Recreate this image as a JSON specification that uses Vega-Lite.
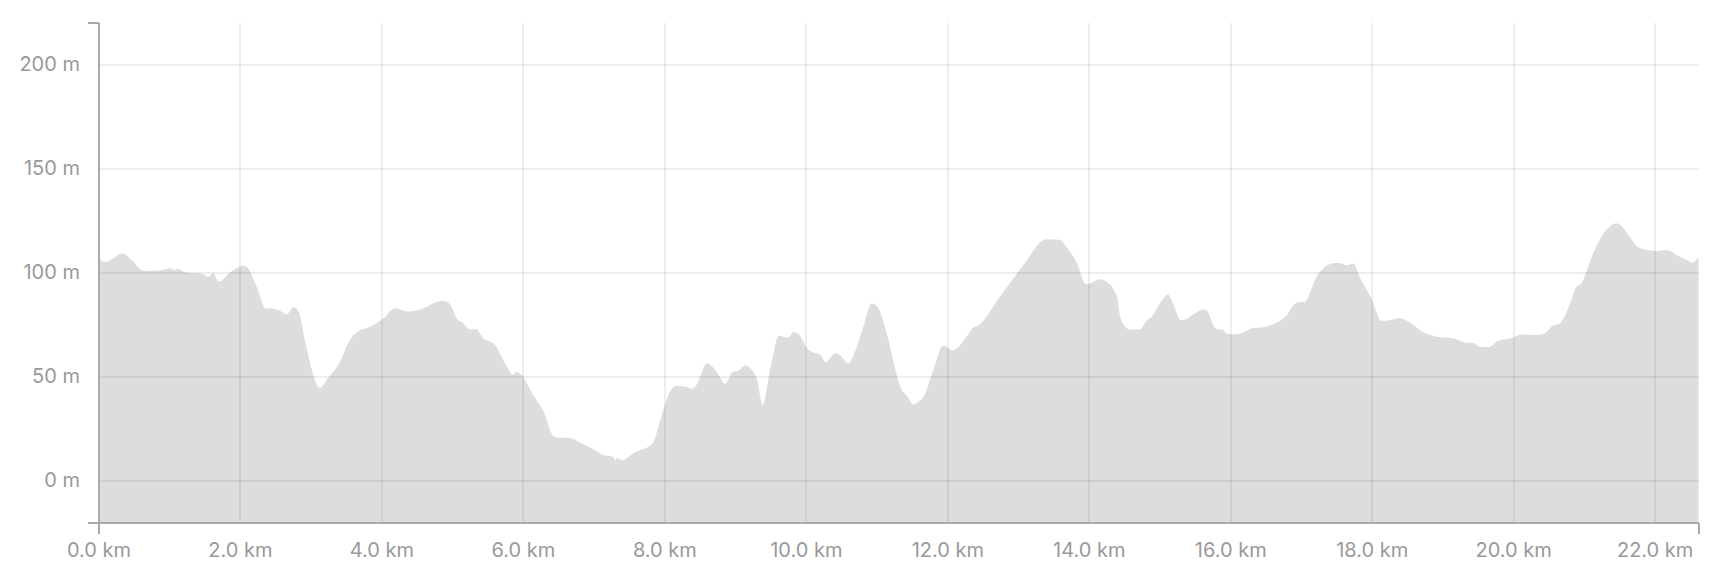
{
  "$schema": "https://vega.github.io/schema/vega-lite/v6.json",
  "autosize": {"type": "none"},
  "padding": {"left": 98.5, "top": 22.5, "right": 17.5, "bottom": 47.5},
  "width": 1600,
  "height": 500,
  "background": "#ffffff",
  "config": {"view": {"stroke": null}},
  "data": {"values": [
    {"km": 0, "m": 106.5}, {"km": 0.1, "m": 105.1}, {"km": 0.34, "m": 109.1}, {"km": 0.48, "m": 105.6},
    {"km": 0.59, "m": 101.6}, {"km": 0.67, "m": 100.8}, {"km": 0.88, "m": 101.1}, {"km": 1.02, "m": 102.1},
    {"km": 1.07, "m": 101.1}, {"km": 1.12, "m": 101.8}, {"km": 1.23, "m": 100}, {"km": 1.44, "m": 99.5},
    {"km": 1.55, "m": 97.9}, {"km": 1.62, "m": 99.7}, {"km": 1.7, "m": 95.7}, {"km": 1.87, "m": 100.3},
    {"km": 2.06, "m": 103.2}, {"km": 2.09, "m": 102.9}, {"km": 2.24, "m": 92.8}, {"km": 2.37, "m": 82.7},
    {"km": 2.43, "m": 82.9}, {"km": 2.55, "m": 81.9}, {"km": 2.66, "m": 80}, {"km": 2.76, "m": 83.5},
    {"km": 2.83, "m": 81.1}, {"km": 2.93, "m": 65.5}, {"km": 3.13, "m": 44.7}, {"km": 3.25, "m": 49.5},
    {"km": 3.42, "m": 57.5}, {"km": 3.53, "m": 66.3}, {"km": 3.69, "m": 72.2}, {"km": 3.79, "m": 73.2},
    {"km": 3.89, "m": 74.8}, {"km": 4.03, "m": 78.0}, {"km": 4.19, "m": 82.9}, {"km": 4.38, "m": 81.3},
    {"km": 4.64, "m": 83.5}, {"km": 4.76, "m": 85.6}, {"km": 4.87, "m": 86.4}, {"km": 4.97, "m": 84.8},
    {"km": 5.09, "m": 76.8}, {"km": 5.13, "m": 76.3}, {"km": 5.25, "m": 72.8}, {"km": 5.34, "m": 72.8},
    {"km": 5.44, "m": 68.4}, {"km": 5.6, "m": 65.5}, {"km": 5.75, "m": 56.3}, {"km": 5.86, "m": 50.8},
    {"km": 5.91, "m": 52.2}, {"km": 5.98, "m": 50.8}, {"km": 6.14, "m": 41.5}, {"km": 6.29, "m": 33.5},
    {"km": 6.43, "m": 21.5}, {"km": 6.5, "m": 20.7}, {"km": 6.64, "m": 20.7}, {"km": 6.81, "m": 18.3},
    {"km": 6.96, "m": 15.9}, {"km": 7.15, "m": 12.3}, {"km": 7.28, "m": 11.5}, {"km": 7.31, "m": 9.8},
    {"km": 7.33, "m": 11.1}, {"km": 7.4, "m": 9.9}, {"km": 7.57, "m": 13.5}, {"km": 7.83, "m": 17.8},
    {"km": 7.94, "m": 28.7}, {"km": 8.05, "m": 40.7}, {"km": 8.16, "m": 45.5}, {"km": 8.32, "m": 45.0},
    {"km": 8.38, "m": 44.2}, {"km": 8.46, "m": 46.3}, {"km": 8.6, "m": 56.4}, {"km": 8.74, "m": 52.4},
    {"km": 8.86, "m": 46.6}, {"km": 8.97, "m": 52.4}, {"km": 9.05, "m": 53.0}, {"km": 9.14, "m": 55.4},
    {"km": 9.25, "m": 52.7}, {"km": 9.31, "m": 48.7}, {"km": 9.39, "m": 36.4}, {"km": 9.5, "m": 54.3},
    {"km": 9.62, "m": 69.6}, {"km": 9.71, "m": 68.8}, {"km": 9.76, "m": 68.8}, {"km": 9.82, "m": 71.6},
    {"km": 9.9, "m": 70.4}, {"km": 10.01, "m": 64.0}, {"km": 10.11, "m": 61.5}, {"km": 10.2, "m": 60.7},
    {"km": 10.28, "m": 56.9}, {"km": 10.41, "m": 61.3}, {"km": 10.48, "m": 60.4}, {"km": 10.6, "m": 56.4},
    {"km": 10.69, "m": 61.6}, {"km": 10.81, "m": 73.6}, {"km": 10.93, "m": 85.1}, {"km": 11.0, "m": 84.0},
    {"km": 11.16, "m": 68.8}, {"km": 11.26, "m": 54.3}, {"km": 11.35, "m": 44.1}, {"km": 11.43, "m": 40.9},
    {"km": 11.52, "m": 36.7}, {"km": 11.61, "m": 38.5}, {"km": 11.66, "m": 40.1}, {"km": 11.8, "m": 53.0},
    {"km": 11.94, "m": 64.9}, {"km": 12.08, "m": 62.7}, {"km": 12.27, "m": 69.1}, {"km": 12.36, "m": 73.4},
    {"km": 12.43, "m": 74.4}, {"km": 12.74, "m": 88.3}, {"km": 13.07, "m": 103.2}, {"km": 13.4, "m": 116.0},
    {"km": 13.59, "m": 115.7}, {"km": 13.69, "m": 112.0}, {"km": 13.83, "m": 104.8}, {"km": 13.96, "m": 94.4},
    {"km": 14.18, "m": 96.8}, {"km": 14.23, "m": 96}, {"km": 14.4, "m": 88.3}, {"km": 14.44, "m": 79.5},
    {"km": 14.51, "m": 74.2}, {"km": 14.58, "m": 72.6}, {"km": 14.72, "m": 72.6}, {"km": 14.82, "m": 77.1},
    {"km": 14.89, "m": 78.7}, {"km": 15.01, "m": 85.4}, {"km": 15.12, "m": 89.4}, {"km": 15.17, "m": 86.7},
    {"km": 15.31, "m": 77.1}, {"km": 15.36, "m": 77.4}, {"km": 15.5, "m": 80.3}, {"km": 15.62, "m": 82.2},
    {"km": 15.67, "m": 81.6}, {"km": 15.77, "m": 74.2}, {"km": 15.83, "m": 72.6}, {"km": 15.88, "m": 72.6},
    {"km": 15.97, "m": 70.4}, {"km": 16.09, "m": 70.4}, {"km": 16.18, "m": 71.2}, {"km": 16.32, "m": 73.4},
    {"km": 16.44, "m": 73.6}, {"km": 16.56, "m": 74.7}, {"km": 16.75, "m": 77.9}, {"km": 16.8, "m": 79.5},
    {"km": 16.89, "m": 84.3}, {"km": 16.98, "m": 85.9}, {"km": 17.05, "m": 85.9}, {"km": 17.22, "m": 97.9},
    {"km": 17.36, "m": 103.2}, {"km": 17.48, "m": 104.6}, {"km": 17.56, "m": 104.5}, {"km": 17.64, "m": 103.5},
    {"km": 17.74, "m": 104.3}, {"km": 17.83, "m": 97.9}, {"km": 18.0, "m": 87.2}, {"km": 18.14, "m": 76.8},
    {"km": 18.26, "m": 77.1}, {"km": 18.4, "m": 78.0}, {"km": 18.54, "m": 76.0}, {"km": 18.73, "m": 71.2},
    {"km": 18.92, "m": 69.2}, {"km": 19.15, "m": 68.4}, {"km": 19.34, "m": 66.3}, {"km": 19.43, "m": 66.3},
    {"km": 19.53, "m": 64.4}, {"km": 19.67, "m": 64.3}, {"km": 19.78, "m": 67.1}, {"km": 19.95, "m": 68.3},
    {"km": 20.14, "m": 70.4}, {"km": 20.33, "m": 70.0}, {"km": 20.44, "m": 70.7}, {"km": 20.56, "m": 74.4},
    {"km": 20.66, "m": 75.5}, {"km": 20.8, "m": 84.8}, {"km": 20.9, "m": 93.4}, {"km": 20.95, "m": 94.2},
    {"km": 21.13, "m": 109.1}, {"km": 21.32, "m": 120.5}, {"km": 21.46, "m": 123.6}, {"km": 21.56, "m": 121.3},
    {"km": 21.65, "m": 117}, {"km": 21.75, "m": 112.6}, {"km": 21.89, "m": 110.8}, {"km": 22.03, "m": 110.3},
    {"km": 22.17, "m": 110.8}, {"km": 22.24, "m": 110}, {"km": 22.32, "m": 108.2}, {"km": 22.48, "m": 105.6},
    {"km": 22.53, "m": 104.7}, {"km": 22.62, "m": 107.3}
  ]},
  "mark": {"type": "area", "color": "#dddddd", "interpolate": "monotone"},
  "encoding": {
    "x": {
      "field": "km", "type": "quantitative",
      "scale": {"domain": [0, 22.62], "nice": false, "zero": false},
      "axis": {
        "title": null,
        "values": [0, 2, 4, 6, 8, 10, 12, 14, 16, 18, 20, 22, 22.62],
        "labelExpr": "datum.value > 22.5 ? '' : format(datum.value, '.1f') + ' km'",
        "labelFlush": false,
        "labelOverlap": false,
        "labelFont": "Inter",
        "labelFontSize": 20,
        "labelColor": "#999999",
        "labelBaseline": "alphabetic",
        "labelPadding": 22.5,
        "tickSize": 11,
        "tickWidth": 2,
        "tickColor": {"condition": {"test": "datum.value == 0 || datum.value > 22.5", "value": "#aaaaaa"}, "value": "transparent"},
        "domainColor": "#aaaaaa",
        "domainWidth": 2,
        "gridColor": {"condition": {"test": "datum.value == 0 || datum.value > 22.5", "value": "transparent"}, "value": "#000000"},
        "gridOpacity": 0.065,
        "gridWidth": 2,
        "zindex": 1
      }
    },
    "y": {
      "field": "m", "type": "quantitative",
      "scale": {"domain": [-20, 220], "nice": false, "zero": false},
      "axis": {
        "title": null,
        "values": [-20, 0, 50, 100, 150, 200, 220],
        "labelExpr": "datum.value == -20 || datum.value == 220 ? '' : datum.value + ' m'",
        "labelOverlap": false,
        "labelFont": "Inter",
        "labelFontSize": 20,
        "labelColor": "#999999",
        "labelPadding": 8,
        "tickSize": 11,
        "tickWidth": 2,
        "tickColor": {"condition": {"test": "datum.value == -20 || datum.value == 220", "value": "#aaaaaa"}, "value": "transparent"},
        "domainColor": "#aaaaaa",
        "domainWidth": 2,
        "gridColor": {"condition": {"test": "datum.value == -20 || datum.value == 220", "value": "transparent"}, "value": "#000000"},
        "gridOpacity": 0.065,
        "gridWidth": 2,
        "zindex": 1
      }
    },
    "y2": {"datum": -20}
  }
}
